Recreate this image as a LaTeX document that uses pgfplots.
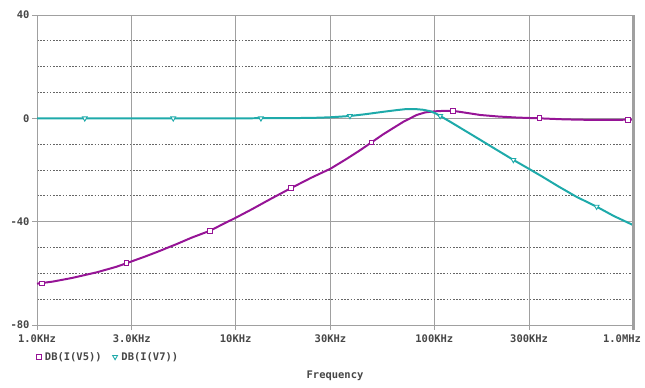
\documentclass[border=0pt]{standalone}
\usepackage{fontspec}
\setmainfont{DejaVu Sans Mono}
\usepackage{pgfplots}
\pgfplotsset{compat=1.18}
\definecolor{vfive}{RGB}{150,20,150}
\definecolor{vseven}{RGB}{30,170,170}
\definecolor{txt}{RGB}{70,70,70}
\definecolor{gridc}{RGB}{160,160,160}
\newcommand{\lblfont}{\fontsize{10.5}{12}\selectfont\bfseries}

\begin{document}
\begin{tikzpicture}
\path[use as bounding box] (-37bp,-63bp) rectangle (608bp,325bp);
\begin{axis}[
  at={(0,0)}, anchor=south west,
  scale only axis, width=596bp, height=310bp,
  xmode=log, xmin=1e3, xmax=1e6, ymin=-80, ymax=40,
  log basis x=10,
  xtick={1e3,3e3,1e4,3e4,1e5,3e5,1e6},
  xticklabels={1.0KHz,3.0KHz,10KHz,30KHz,100KHz,300KHz,
    {\makebox[0pt][c]{\hspace{-22bp}1.0MHz}}},
  ytick={-80,-40,0,40},
  yticklabels={-80,-40,0,40},
  minor ytick={-70,-60,-50,-30,-20,-10,10,20,30},
  minor tick length=0pt,
  minor x tick num=0,
  xtick pos=left, ytick pos=left,
  tick align=outside, major tick length=5bp,
  tick style={gridc, line width=0.8pt},
  grid=both,
  major grid style={gridc, solid, line width=0.8pt},
  minor grid style={black!60, dash pattern=on 1.6bp off 1.6bp, line width=0.7pt},
  axis line style={gridc, line width=0.8pt},
  /pgf/number format/assume math mode=true,
  every tick label/.append style={font=\lblfont, text=txt},
  xticklabel style={yshift=-1bp},
  yticklabel style={xshift=1bp},
  xlabel={Frequency},
  xlabel style={at={(axis description cs:0.5,0)}, anchor=north, yshift=-42bp,
    font=\lblfont, text=txt},
  legend style={at={(axis description cs:0,0)}, anchor=north west,
    xshift=-2bp, yshift=-24bp, draw=none, fill=none,
    font=\lblfont, text=txt, column sep=2bp, inner sep=1bp},
  legend columns=2,
  legend cell align=left,
  clip=false,
]
% DB(I(V5)) response
\addplot[vfive, line width=2pt, forget plot] coordinates {
(1000,-64.0) (1200,-63.2) (1500,-61.8) (2000,-59.6) (2500,-57.5)
(2820,-56.1) (3500,-53.5) (4000,-51.8) (5000,-48.8) (6000,-46.2)
(7430,-43.5) (8500,-41.2) (10000,-38.5) (12000,-35.3) (15000,-31.2)
(19000,-27.0) (24000,-23.0) (30000,-19.5) (36000,-15.8) (42000,-12.5)
(48300,-9.3) (55000,-6.3) (62000,-3.8) (70000,-1.3) (81500,1.3)
(90000,2.3) (100000,2.7) (112000,2.9) (124000,2.9) (140000,2.3)
(170000,1.3) (210000,0.7) (260000,0.3) (338000,0.0) (450000,-0.4)
(605000,-0.6) (800000,-0.6) (1000000,-0.5)
};
% DB(I(V7)) response
\addplot[vseven, line width=2pt, forget plot] coordinates {
(1000,0) (10000,0) (20000,0.1) (25000,0.2) (30000,0.4) (37600,0.9)
(45000,1.6) (55000,2.5) (65000,3.2) (72500,3.6) (80000,3.6)
(88000,3.3) (95000,2.8) (101000,2.0) (107000,0.9) (120000,-1.3)
(140000,-4.4) (170000,-8.3) (200000,-11.6) (250000,-16.1)
(297000,-19.4) (350000,-22.6) (420000,-26.3) (520000,-30.4)
(656000,-34.2) (800000,-37.8) (1000000,-41.3)
};
% trace markers
\addplot[only marks, mark=square*, mark size=2.4pt,
  mark options={draw=vfive, fill=white, line width=0.9pt}] coordinates {
(1056,-63.9) (2820,-56.1) (7430,-43.5) (19000,-27.0) (48300,-9.3)
(124000,2.9) (338000,0.0) (940000,-0.5)
};
\addlegendentry{DB(I(V5))\rule{7bp}{0pt}}
\addplot[only marks, mark=triangle*, mark size=2.8pt,
  mark options={draw=vseven, fill=white, rotate=180, line width=0.9pt}] coordinates {
(1740,0) (4850,0) (13400,0) (37600,0.9) (107000,0.9) (250000,-16.1)
(656000,-34.2)
};
\addlegendentry{DB(I(V7))}
% window edge on the right
\draw[gridc, line width=3pt] (rel axis cs:1,-0.015) -- (rel axis cs:1,1);
\end{axis}
\end{tikzpicture}
\end{document}
